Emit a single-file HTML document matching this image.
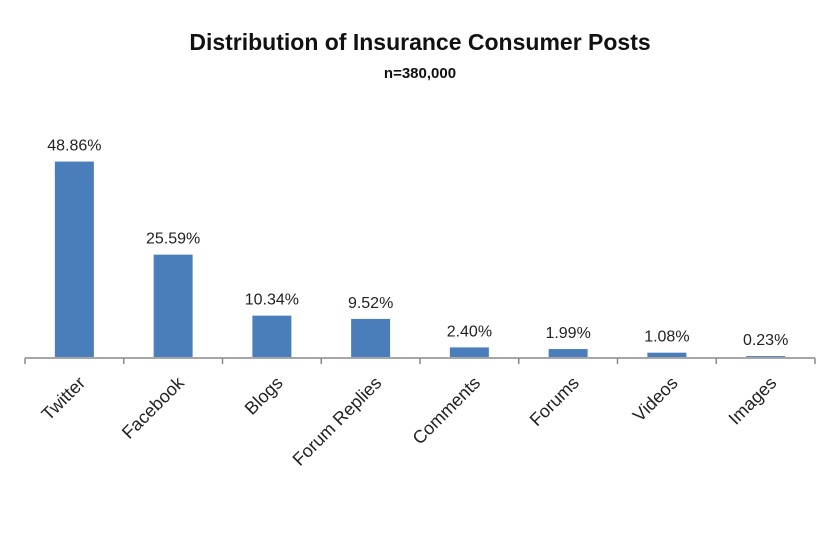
<!DOCTYPE html>
<html><head><meta charset="utf-8"><style>
body{margin:0;background:#fff;}
svg{display:block;font-family:"Liberation Sans","DejaVu Sans",sans-serif;}
</style></head><body>
<svg id="chart" width="840" height="546" viewBox="0 0 840 546">
<rect width="840" height="546" fill="#fff"/>
<text x="420" y="50" text-anchor="middle" font-size="23" font-weight="bold" fill="#111">Distribution of Insurance Consumer Posts</text>
<text x="420" y="78" text-anchor="middle" font-size="15" font-weight="bold" fill="#111">n=380,000</text>
<g id="plot"></g>
</svg>
<script>
const categories=["Twitter","Facebook","Blogs","Forum Replies","Comments","Forums","Videos","Images"];
const values=[48.86,25.59,10.34,9.52,2.40,1.99,1.08,0.23];
const valueLabels=["48.86%","25.59%","10.34%","9.52%","2.40%","1.99%","1.08%","0.23%"];
const ns="http://www.w3.org/2000/svg";
const g=document.getElementById('plot');
const x0=25,x1=815,base=357,pxPer=4.0;
const band=(x1-x0)/categories.length;
const xc=i=>x0+band*(i+0.5);
const y=v=>base-v*pxPer;
function mk(t,a){const e=document.createElementNS(ns,t);for(const k in a)e.setAttribute(k,a[k]);g.appendChild(e);return e;}
categories.forEach((c,i)=>{
 const r=mk('rect',{x:xc(i)-19.5,y:y(values[i]),width:39,height:base-y(values[i]),fill:'#4a7ebb'});
 
 
 const t=mk('text',{x:xc(i),y:y(values[i])-11,'text-anchor':'middle','font-size':'16',fill:'#222'});
 t.textContent=valueLabels[i];
 
 
 const l=mk('text',{x:0,y:0,'text-anchor':'end','font-size':'18',fill:'#222',transform:`translate(${xc(i)+12},${384}) rotate(-45)`});
 l.textContent=c;
 
 
});
const ax=mk('line',{x1:x0,x2:x1,y1:base+1,y2:base+1,stroke:'#888','stroke-width':1.5});


for(let i=0;i<=categories.length;i++){
 const tk=mk('line',{x1:x0+band*i,x2:x0+band*i,y1:base+1,y2:base+7,stroke:'#888','stroke-width':1.5});
 
 
}
</script>
</body></html>
